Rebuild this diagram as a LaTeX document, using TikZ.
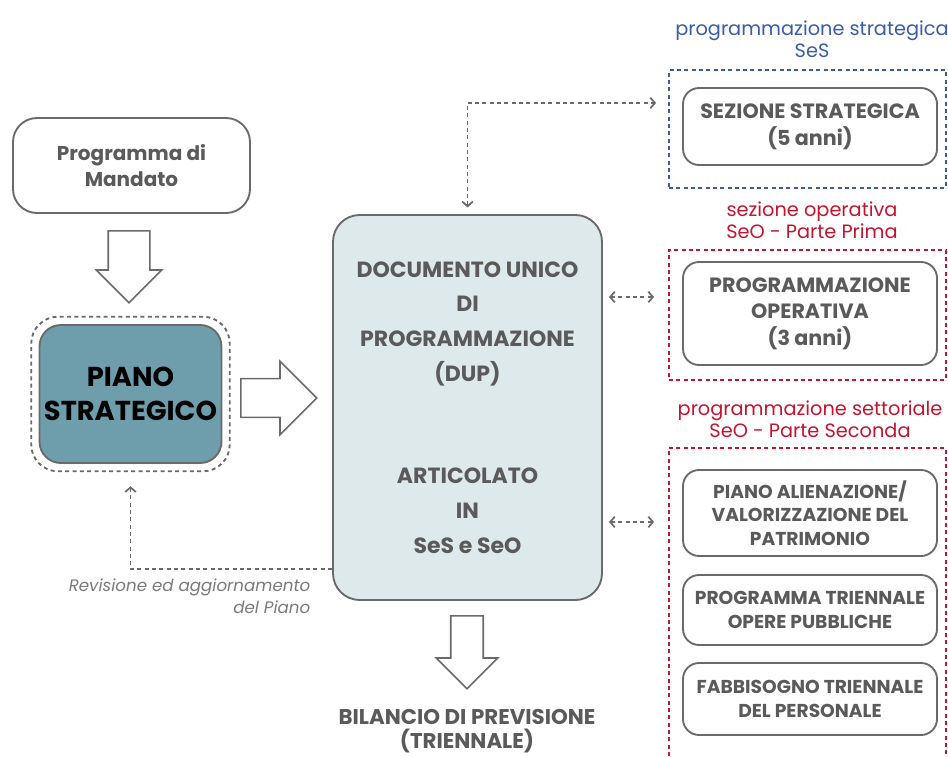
\documentclass[tikz,border=0pt]{standalone}
\usepackage{fontspec}
\setmainfont{Poppins}
\usepackage{xcolor}
\usepackage{tikz}
\usetikzlibrary{arrows.meta,positioning,shapes.arrows,fit,calc}
\definecolor{dupText}{HTML}{5A5A5A}
\definecolor{dupLine}{HTML}{6A6A6A}
\definecolor{dupFill}{HTML}{DEE9EB}
\definecolor{dupTeal}{HTML}{6E9DAB}
\definecolor{dupBlue}{HTML}{3A5CA8}
\definecolor{dupRed}{HTML}{C4142E}
\definecolor{dupSoft}{HTML}{7A7A7A}
\tikzset{
  box/.style={rectangle, rounded corners=12pt, draw=dupLine, line width=1.4pt, fill=white, align=center, text=dupText, inner sep=0pt, font=\bfseries\fontsize{15.5}{20}\selectfont},
  smallbox/.style={box, font=\bfseries\fontsize{14}{17.5}\selectfont},
  piano/.style={rectangle, rounded corners=16pt, draw=dupLine, line width=1.4pt, fill=dupTeal, align=center, text=black, font=\bfseries\fontsize{20.5}{25}\selectfont},
  outline/.style={rectangle, rounded corners=20pt, draw=dupLine, line width=1.4pt, dash pattern=on 3pt off 2.5pt, inner sep=5.5pt},
  dupbox/.style={rectangle, rounded corners=20pt, draw=dupLine, line width=1.4pt, fill=dupFill, align=center, text=dupText, font=\bfseries\fontsize{16.5}{26}\selectfont},
  group/.style={rectangle, line width=1.3pt, dash pattern=on 3pt off 2.5pt, minimum width=207.75pt},
  grplabel/.style={align=center, font=\fontsize{14.5}{16.5}\selectfont},
  hollow/.style={single arrow, draw=dupLine, line width=1.2pt, fill=white, inner xsep=0pt, anchor=tail},
  dasharrow/.style={draw=dupLine, line width=1.3pt, dash pattern=on 3pt off 2.5pt}
}
\begin{document}
\begin{tikzpicture}[x=0.75pt, y=-0.75pt, >={Straight Barb[length=3.5pt,width=8pt]}]
\useasboundingbox (0,0) rectangle (948,756);
% left column
\node[box, rounded corners=18pt, minimum width=177.75pt, minimum height=71.25pt, font=\bfseries\fontsize{15}{20}\selectfont] (mandato) at (131.5,165.5) {Programma di\\Mandato};
\node[hollow, rotate=-90, minimum height=54pt, inner ysep=15pt, single arrow head extend=9pt] (arrA) at (129,230) {};
\node[piano, minimum width=135.75pt, minimum height=103.5pt] (piano) at (130.5,394) {PIANO\\STRATEGICO};
\node[outline, fit=(piano)] (pianoout) {};
\node[hollow, minimum height=57pt, inner ysep=13.9pt, single arrow head extend=13.1pt] (arrB) at (240,398) {};
\node[anchor=north east, align=right, text=dupSoft, font=\itshape\fontsize{12.5}{16.5}\selectfont] (revisione) at (315,574) {Revisione ed aggiornamento\\del Piano};

% DUP
\node[dupbox, minimum width=201.75pt, minimum height=288.75pt] (dup) at (467.5,407.5)
  {DOCUMENTO UNICO\\DI\\PROGRAMMAZIONE\\(DUP)\\[51pt]ARTICOLATO\\IN\\SeS e SeO};
\node[hollow, rotate=-90, minimum height=54.75pt, inner ysep=11.6pt, single arrow head extend=10.9pt] (arrC) at (467,615) {};
\node[text=dupText, align=center, font=\bfseries\fontsize{16}{18.5}\selectfont] (bilancio) at (467,731) {BILANCIO DI PREVISIONE\\(TRIENNALE)};

% right column
\node[group, draw=dupBlue, minimum height=88.5pt] (ses) at (807.5,129) {};
\node[grplabel, text=dupBlue] (sesLabel) at (812,39) {programmazione strategica\\SeS};
\node[box, minimum width=190.5pt, minimum height=57.75pt] (sesbox) at (810,126.5) {SEZIONE STRATEGICA\\(5 anni)};

\node[group, draw=dupRed, minimum height=97.5pt] (seo1) at (807.5,315) {};
\node[grplabel, text=dupRed] (seo1Label) at (812,220) {sezione operativa\\SeO - Parte Prima};
\node[box, minimum width=190.5pt, minimum height=77.25pt] (opbox) at (810,313.5) {PROGRAMMAZIONE\\OPERATIVA\\(3 anni)};

\node[group, draw=dupRed, minimum height=264pt] (seo2) at (807.5,624) {};
\node[grplabel, text=dupRed] (seo2Label) at (810,419) {programmazione settoriale\\SeO - Parte Seconda};
\node[smallbox, minimum width=190.5pt, minimum height=64.5pt] (alien) at (810,513) {PIANO ALIENAZIONE/\\VALORIZZAZIONE DEL\\PATRIMONIO};
\node[smallbox, minimum width=190.5pt, minimum height=52.5pt] (opere) at (810,610) {PROGRAMMA TRIENNALE\\OPERE PUBBLICHE};
\node[smallbox, minimum width=190.5pt, minimum height=54pt] (personale) at (810,699) {FABBISOGNO TRIENNALE\\DEL PERSONALE};

% dashed connectors
\coordinate (yOp) at (0,297);
\coordinate (yAl) at (0,522);
\draw[dasharrow, <->, shorten <=5pt] (dup.north) |- ($(ses.west)+(-12,-26)$);
\draw[dasharrow, <->, shorten <=4.5pt, shorten >=10.5pt] (dup.east |- yOp) -- (seo1.west |- yOp);
\draw[dasharrow, <->, shorten <=4.5pt, shorten >=10.5pt] (dup.east |- yAl) -- (seo2.west |- yAl);
\draw[dasharrow, ->] ([yshift=24pt]dup.south west) -| ([yshift=-10.5pt]pianoout.south);
\end{tikzpicture}
\end{document}
